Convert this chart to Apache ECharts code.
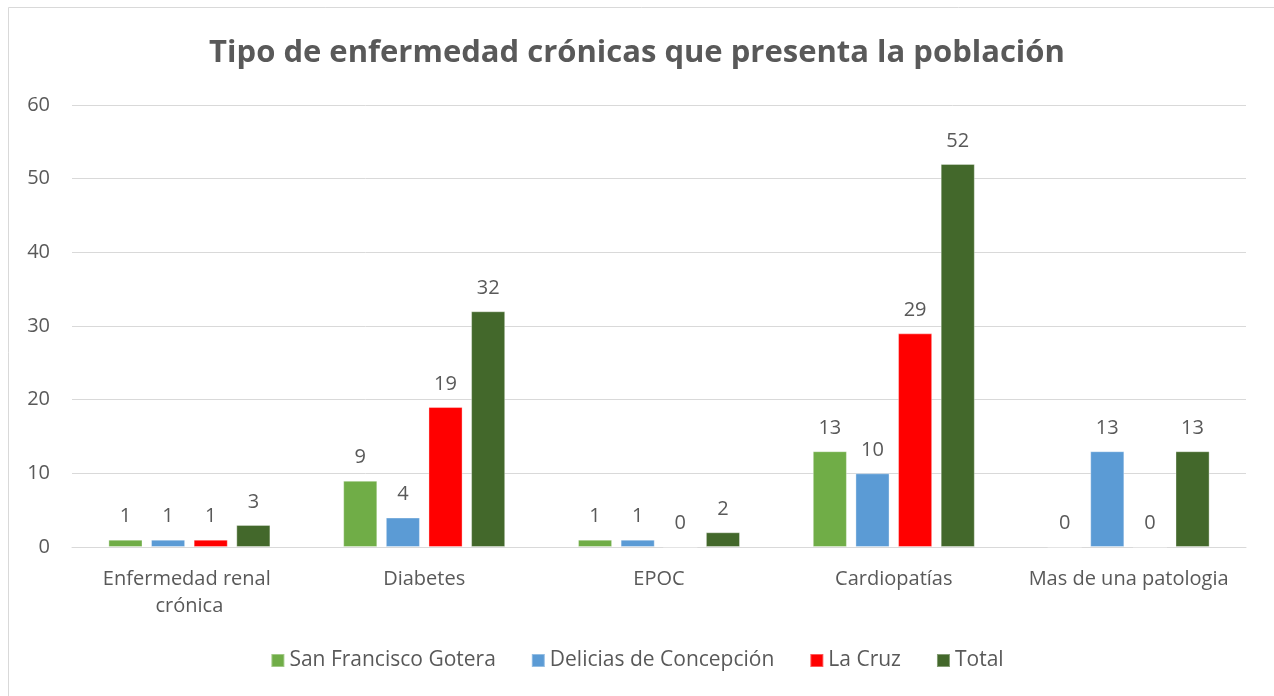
<!DOCTYPE html>
<html>
<head>
<meta charset="utf-8">
<script src="https://cdn.jsdelivr.net/npm/echarts@6/dist/echarts.min.js"></script>
<style>
  html, body { margin: 0; padding: 0; background: #fff; }
  #chart { width: 1274px; height: 696px; }
</style>
</head>
<body>
<div id="chart"></div>
<script>
// Chronic disease counts per community
const categories = ['Enfermedad renal crónica', 'Diabetes', 'EPOC', 'Cardiopatías', 'Mas de una patologia'];
const seriesNames = ['San Francisco Gotera', 'Delicias de Concepción', 'La Cruz', 'Total'];
const sanFrancisco = [1, 9, 1, 13, 0];
const delicias = [1, 4, 1, 10, 13];
const laCruz = [1, 19, 0, 29, 0];
const total = [3, 32, 2, 52, 13];
const yTicks = [0, 10, 20, 30, 40, 50, 60];

const colors = ['#70AD47', '#5B9BD5', '#FF0000', '#43682B'];
const values = [sanFrancisco, delicias, laCruz, total];
const textColor = '#595959';
const fontFamily = '"Open Sans", "Noto Sans", sans-serif';

const chart = echarts.init(document.getElementById('chart'));
chart.setOption({
  backgroundColor: '#fff',
  textStyle: { fontFamily: fontFamily },
  graphic: [{
    type: 'rect',
    shape: { x: 8.5, y: 7.5, width: 1400, height: 900 },
    style: { fill: 'none', stroke: '#d9d9d9', lineWidth: 1 },
    silent: true
  }],
  title: {
    text: 'Tipo de enfermedad crónicas que presenta la población',
    left: 'center',
    top: 33,
    textStyle: { color: textColor, fontSize: 31, fontWeight: 'bold', fontFamily: fontFamily }
  },
  legend: {
    data: seriesNames,
    bottom: 20,
    left: 'center',
    itemWidth: 13,
    itemHeight: 13,
    itemGap: 35,
    icon: 'rect',
    textStyle: { color: textColor, fontSize: 21, fontFamily: fontFamily }
  },
  grid: { left: 72, right: 28, top: 105, bottom: 149, containLabel: false },
  xAxis: {
    type: 'category',
    data: categories,
    axisLine: { lineStyle: { color: '#d9d9d9', width: 1 } },
    axisTick: { show: false },
    axisLabel: {
      interval: 0,
      color: textColor,
      fontSize: 20,
      margin: 19,
      width: 200,
      overflow: 'break',
      lineHeight: 27,
      fontFamily: fontFamily
    }
  },
  yAxis: {
    type: 'value',
    min: yTicks[0],
    max: yTicks[yTicks.length - 1],
    interval: yTicks[1] - yTicks[0],
    axisLine: { show: false },
    axisTick: { show: false },
    splitLine: { lineStyle: { color: '#d9d9d9', width: 1 } },
    axisLabel: { color: textColor, fontSize: 20, margin: 22, fontFamily: fontFamily }
  },
  series: seriesNames.map((name, i) => ({
    name: name,
    type: 'bar',
    data: values[i],
    barGap: '25%',
    barCategoryGap: '31%',
    itemStyle: { color: colors[i], borderColor: 'rgba(255,255,255,0.35)', borderWidth: 1 },
    label: {
      show: true,
      position: 'top',
      distance: 13,
      color: textColor,
      fontSize: 20,
      fontFamily: fontFamily
    }
  }))
});
</script>
</body>
</html>
